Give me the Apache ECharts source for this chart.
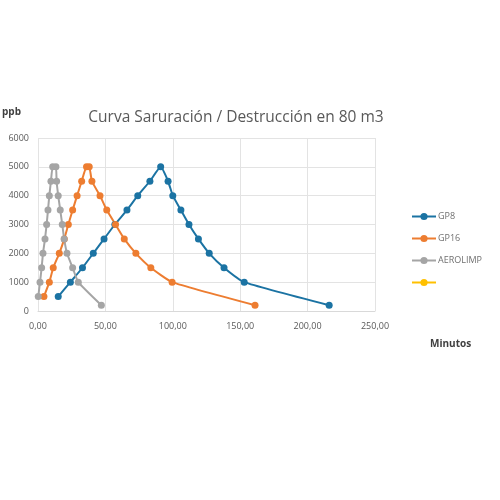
<!DOCTYPE html>
<html><head><meta charset="utf-8">
<script src="https://cdn.jsdelivr.net/npm/echarts@6/dist/echarts.min.js"></script>
<style>html,body{margin:0;padding:0;background:#fff}#c{width:500px;height:500px}</style>
</head><body><div id="c"></div>
<script>
const gp8X = [15, 24, 33, 41, 49, 57, 66, 74, 83, 91, 96.5, 100, 106, 112, 119, 127, 138, 153, 216];
const gp8Y = [500, 1000, 1500, 2000, 2500, 3000, 3500, 4000, 4500, 5000, 4500, 4000, 3500, 3000, 2500, 2000, 1500, 1000, 200];
const gp16X = [4.4, 8.4, 11.3, 15.8, 19.5, 22.5, 25.7, 29, 32.4, 36, 38, 40, 46, 51, 57.5, 64, 72.6, 83.7, 99.5, 161];
const gp16Y = [500, 1000, 1500, 2000, 2500, 3000, 3500, 4000, 4500, 5000, 5000, 4500, 4000, 3500, 3000, 2500, 2000, 1500, 1000, 200];
const aeroX = [0.2, 1.5, 2.7, 3.7, 5.2, 6.4, 7.4, 8.4, 9.6, 10.9, 13.3, 13.8, 15, 16.5, 18, 19.4, 21.5, 25.7, 29.9, 47];
const aeroY = [500, 1000, 1500, 2000, 2500, 3000, 3500, 4000, 4500, 5000, 5000, 4500, 4000, 3500, 3000, 2500, 2000, 1500, 1000, 200];
const seriesNames = ['GP8', 'GP16', 'AEROLIMP', ' '];
const seriesColors = ['#1b73a3', '#ed7d31', '#a5a5a5', '#ffc000'];
const xTicks = {min: 0, max: 250, interval: 50};
const yTicks = {min: 0, max: 6000, interval: 1000};

function pairs(xs, ys) { return xs.map((x, i) => [x, ys[i]]); }
const seriesData = [pairs(gp8X, gp8Y), pairs(gp16X, gp16Y), pairs(aeroX, aeroY), []];

const chart = echarts.init(document.getElementById('c'), null, {renderer: 'canvas'});
chart.setOption({
  animation: false,
  backgroundColor: '#fff',
  title: {
    text: 'Curva Saruración / Destrucción en 80 m3',
    left: 231, top: 105, textAlign: 'center',
    textStyle: {fontFamily: 'Open Sans', fontWeight: 'normal', fontSize: 15.5, color: '#595959'}
  },
  graphic: [
    {type: 'text', left: 2, top: 107, style: {text: 'ppb', fontFamily: 'Open Sans', fontWeight: 'bold', fontSize: 10, fill: '#404040'}},
    {type: 'text', left: 430, top: 339, style: {text: 'Minutos', fontFamily: 'Open Sans', fontWeight: 'bold', fontSize: 10, fill: '#404040'}}
  ],
  legend: {
    orient: 'vertical', left: 406, top: 207, itemGap: 13,
    itemWidth: 24, itemHeight: 9,
    data: seriesNames,
    textStyle: {fontFamily: 'Open Sans', fontSize: 9, color: '#707070', padding: [0, 0, 0, -3]}
  },
  grid: {left: 38, right: 125, top: 138, bottom: 189, containLabel: false},
  xAxis: {
    type: 'value', min: xTicks.min, max: xTicks.max, interval: xTicks.interval,
    axisLine: {show: true, lineStyle: {color: '#d9d9d9'}},
    axisTick: {show: false},
    splitLine: {show: true, lineStyle: {color: '#e3e3e3'}},
    axisLabel: {color: '#595959', fontFamily: 'Open Sans', fontSize: 9, margin: 11,
      formatter: v => v.toFixed(2).replace('.', ',')}
  },
  yAxis: {
    type: 'value', min: yTicks.min, max: yTicks.max, interval: yTicks.interval,
    axisLine: {show: false},
    axisTick: {show: false},
    splitLine: {show: true, lineStyle: {color: '#e3e3e3'}},
    axisLabel: {color: '#595959', fontFamily: 'Open Sans', fontSize: 9, margin: 9,
      formatter: v => String(v)}
  },
  series: seriesNames.map((n, i) => ({
    name: n, type: 'line', data: seriesData[i],
    smooth: 0.15, symbol: 'circle', symbolSize: 7, showSymbol: true,
    itemStyle: {color: seriesColors[i]},
    lineStyle: {color: seriesColors[i], width: 2}
  }))
});
</script></body></html>
